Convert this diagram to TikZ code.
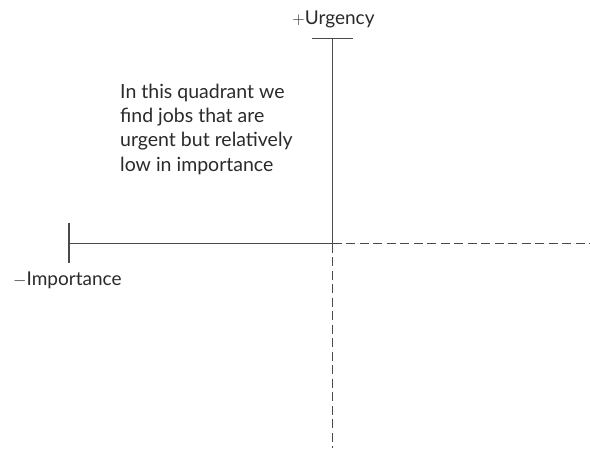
\documentclass[tikz,border=0pt]{standalone}
\usepackage{fontspec}
\setmainfont{Lato}
\definecolor{txt}{HTML}{2A2A2A}
\definecolor{ln}{HTML}{4A4A4A}
\begin{document}
\begin{tikzpicture}[x=1pt,y=-1pt,
  axis/.style={draw=ln,line width=1.3pt},
  dashaxis/.style={draw=ln,line width=1.3pt,dash pattern=on 9pt off 4.5pt},
  lbl/.style={inner sep=0pt,text=txt,font=\fontsize{19}{22}\selectfont},
  para/.style={inner sep=0pt,text=txt,align=left,font=\fontsize{19.5}{24.3}\selectfont}]
\useasboundingbox (0,0) rectangle (590,448);
\coordinate (O) at (332.5,243.5);
\coordinate (T) at (332.5,38.5);
\coordinate (B) at (332.5,448);
\coordinate (L) at (69,243.5);
\coordinate (R) at (590,243.5);
\coordinate (TL) at (312,38.5);
\coordinate (TR) at (353,38.5);
\coordinate (LT) at (69,223);
\coordinate (LB) at (69,263);
\draw[axis] (T) -- (O);
\draw[axis] (L) -- (O);
\draw[dashaxis] (O) -- (R);
\draw[dashaxis] (O) -- (B);
\draw[axis] (TL) -- (TR);
\draw[axis] (LT) -- (LB);
\node[lbl,anchor=base] (urg) at (333.5,24) {$+$Urgency};
\node[lbl,anchor=base west] (imp) at (13,285) {$-$Importance};
\node[para,anchor=base west] (txt) at (120,171) {In this quadrant we\\find jobs that are\\urgent but relatively\\low in importance};
\end{tikzpicture}
\end{document}
